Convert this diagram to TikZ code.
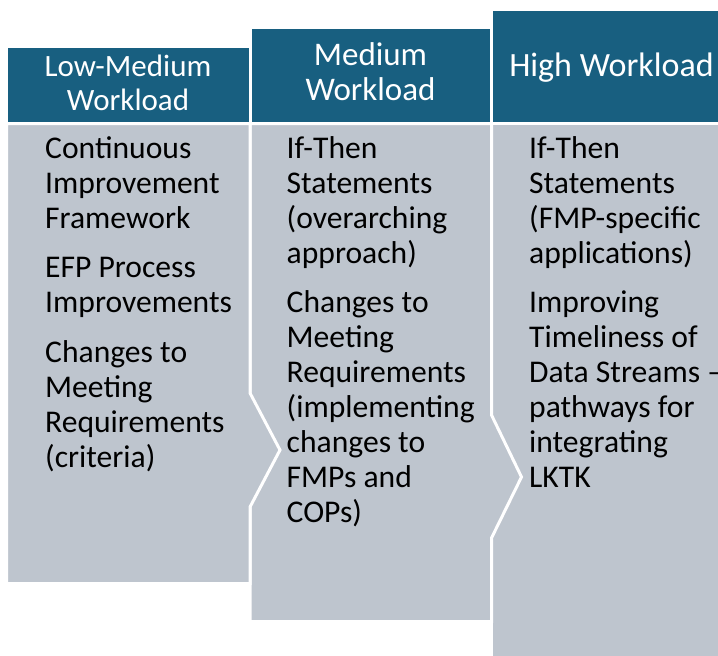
\documentclass[tikz,border=0pt]{standalone}
\usepackage{fontspec}
\setmainfont{Carlito}
\definecolor{headblue}{RGB}{24,95,128}
\definecolor{bodygrey}{RGB}{190,197,206}
\tikzset{
	colhead/.style={fill=headblue, draw=white, line width=3pt},
	colbody/.style={fill=bodygrey, draw=white, line width=3pt, line join=miter},
	headtext/.style={text=white, align=center, inner sep=0pt, anchor=base},
	bodytext/.style={text=black, align=left, inner sep=0pt, anchor=base west, font=\fontsize{31.6}{35}\selectfont}
}
\newcommand\paragap{\\[14.5pt]}

\begin{document}
\begin{tikzpicture}[x=1pt, y=-1pt]
			%%%%% START %%%%%
			\useasboundingbox (0, 0) rectangle (718, 656);
			
			% bodies, right to left so each chevron lies over its neighbour
			\draw[colbody] (491.5, 123.5) rectangle (740, 680);
			\draw[colbody] (250, 123.5) -- (491.5, 123.5) -- (491.5, 415) -- (521.5, 477) -- (491.5, 538) -- (491.5, 621.5) -- (250, 621.5) -- cycle;
			\draw[colbody] (6.5, 123.5) -- (250, 123.5) -- (250, 393) -- (280, 450) -- (250, 507) -- (250, 583.5) -- (6.5, 583.5) -- cycle;
			
			% headers
			\draw[colhead] (6.5, 46.5) rectangle (250, 123.5);
			\draw[colhead] (250, 27.5) rectangle (491.5, 123.5);
			\draw[colhead] (491.5, 9) rectangle (740, 123.5);
			
			% base anchor = last line
			\node[headtext, font=\fontsize{31}{34}\selectfont] (lowhead) at (128, 110) {Low-Medium\\Workload};
			\node[headtext, font=\fontsize{33}{35}\selectfont] (medhead) at (370.5, 100) {Medium\\Workload};
			\node[headtext, font=\fontsize{34}{40}\selectfont] (highhead) at (611.5, 76) {High Workload};
			
			% column texts
			\node[bodytext] (lowtext) at (45, 467) {Continuous\\Improvement\\Framework\paragap EFP Process\\Improvements\paragap Changes to\\Meeting\\Requirements\\(criteria)};
			\node[bodytext] (medtext) at (286.5, 522.5) {If-Then\\Statements\\(overarching\\approach)\paragap Changes to\\Meeting\\Requirements\\(implementing\\changes to\\FMPs and\\COPs)};
			\node[bodytext] (hightext) at (529, 487.5) {If-Then\\Statements\\(FMP-specific\\applications)\paragap Improving\\Timeliness of\\Data Streams –\\pathways for\\integrating\\LKTK};
			
			%%%%% END %%%%%
\end{tikzpicture}
\end{document}
